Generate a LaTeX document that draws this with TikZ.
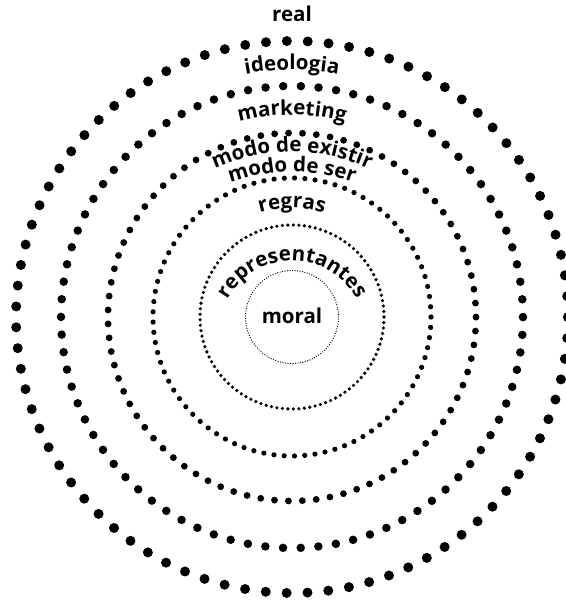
\documentclass[tikz,border=0pt]{standalone}
\usepackage{fontspec}
\setmainfont{Open Sans}
\usetikzlibrary{decorations.text}
\newcommand{\ringfont}{\bfseries\fontsize{20.5}{24}\selectfont}
\tikzset{
  dotring/.style={draw=black, line cap=round, line width=#1},
  ringlabel/.style={decorate, decoration={text along path, text align=center,
    text={|\ringfont|#1}}},
  flatlabel/.style={font=\ringfont, inner sep=0pt, anchor=base}
}

\begin{document}
\begin{tikzpicture}[x=1pt,y=1pt]
  \useasboundingbox (-292,-284) rectangle (273,317);
  % rings from outside in: radius/dot size/number of dots
  \foreach \r/\d/\n in {276/10/83, 231/8.5/82, 184/6.8/83, 139/5.2/85, 92/3.6/105} {
    \pgfmathsetmacro{\gap}{2*pi*\r/\n}
    \draw[dotring=\d pt, dash pattern=on 0pt off \gap pt] (0,0) circle[radius=\r];
  }
  \draw[dotring=1.3pt, dash pattern=on 0pt off 2.5pt] (0,0) circle[radius=46.5];

  % labels
  \node[flatlabel] (real) at (0,295) {real};
  \node[flatlabel] (moral) at (0,-7) {moral};
  \path[ringlabel=ideologia] (0,-13) ++(165:260) arc[start angle=165, end angle=15, radius=260];
  \path[ringlabel=marketing] (0,2) ++(165:200) arc[start angle=165, end angle=15, radius=200];
  \path[ringlabel=modo de existir] (0,-20) ++(165:185) arc[start angle=165, end angle=15, radius=185];
  \path[ringlabel=modo de ser] (0,-35) ++(165:180) arc[start angle=165, end angle=15, radius=180];
  \path[ringlabel=regras] (0,-1) ++(170:110) arc[start angle=170, end angle=10, radius=110];
  \path[ringlabel=representantes] (0,-18) ++(178:74) arc[start angle=178, end angle=2, radius=74];
\end{tikzpicture}
\end{document}
